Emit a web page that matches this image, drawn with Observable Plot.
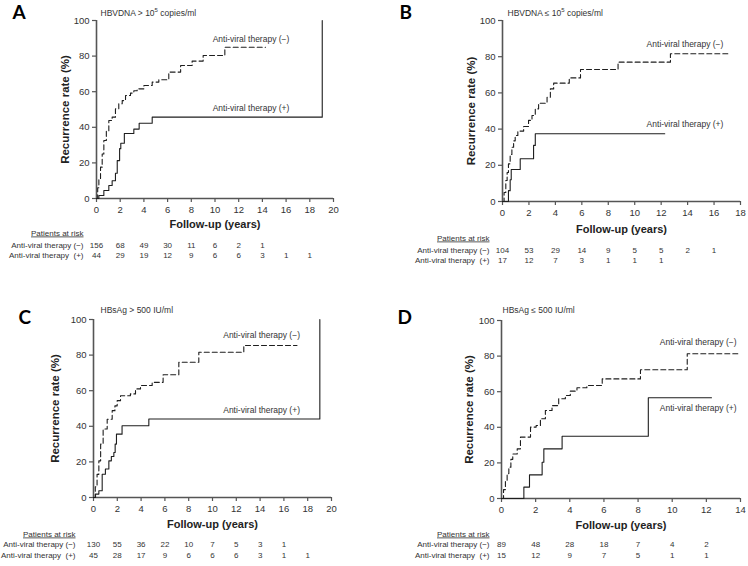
<!DOCTYPE html>
<html><head><meta charset="utf-8">
<script src="https://cdn.jsdelivr.net/npm/d3@7"></script>
<script src="https://cdn.jsdelivr.net/npm/@observablehq/plot@0.6"></script>
<style>
body{margin:0;background:#fff;}
#wrap{position:relative;width:748px;height:566px;font-family:"Liberation Sans",Arial,sans-serif;}
#wrap svg{position:absolute;overflow:visible;}
</style></head><body><div id="wrap"></div>
<script>
// ---------- data ----------
const labelNeg = "Anti-viral therapy (−)";
const labelPos = "Anti-viral therapy (+)";
const riskNegLabel = "Anti-viral therapy (−)";
const riskPosLabel = "Anti-viral therapy  (+)";
const yTicks = [0, 20, 40, 60, 80, 100];

// Panel A: HBVDNA > 10^5
const aTitle = "HBVDNA > 10⁵ copies/ml";
const aNeg = [[0,0],[0.1,6],[0.2,11],[0.34,17.6],[0.48,25],[0.62,32.6],[0.83,38],[1.04,43.8],[1.32,45.7],[1.6,50.4],[1.88,53.2],[2.17,55],[2.45,57.9],[2.87,59.2],[3.15,60.5],[3.43,61.6],[4.0,63.5],[4.7,65.4],[5.26,66.7],[6.1,71],[7.1,74.7],[8.07,77.2],[9.0,80.3],[10.83,85],[14.26,85]];
const aPos = [[0,0],[0.2,1.7],[0.62,4.5],[1.04,7.3],[1.32,10],[1.6,14.2],[1.75,21.3],[1.95,28],[2.05,31],[2.35,36.5],[3.15,39],[3.6,42.3],[4.7,45.7],[19.05,45.7],[19.05,100]];
const aRiskNeg = [156, 68, 49, 30, 11, 6, 2, 1];
const aRiskPos = [44, 29, 19, 12, 9, 6, 6, 3, 1, 1];
const aXTicks = [0,2,4,6,8,10,12,14,16,18,20];

// Panel B: HBVDNA <= 10^5
const bTitle = "HBVDNA ≤ 10⁵ copies/ml";
const bNeg = [[0,0],[0.12,5],[0.25,11.6],[0.35,16],[0.45,20.8],[0.58,26],[0.71,30],[0.84,33.5],[0.96,36.5],[1.16,38.9],[1.6,41.4],[1.97,44.8],[2.23,47.5],[2.48,51.2],[2.73,54.3],[3.37,57.6],[3.62,62.2],[3.87,65.4],[5.05,68.3],[5.9,72.9],[8.74,77],[12.7,81.6],[17.2,81.6]];
const bPos = [[0,0],[0.45,6],[0.58,12],[0.66,17.7],[1.34,23.6],[2.35,31],[2.48,37.4],[12.27,37.4]];
const bRiskNeg = [104, 53, 29, 14, 9, 5, 5, 2, 1];
const bRiskPos = [17, 12, 7, 3, 1, 1, 1];
const bXTicks = [0,2,4,6,8,10,12,14,16,18];

// Panel C: HBsAg > 500
const cTitle = "HBsAg > 500 IU/ml";
const cNeg = [[0,0],[0.15,6],[0.3,13],[0.45,20.6],[0.6,30],[0.81,38.5],[1.15,44],[1.57,48.8],[1.8,51.5],[1.99,54.4],[2.27,57.2],[3.1,58.2],[3.53,61],[3.95,62.9],[4.93,64.7],[5.85,69],[7.17,76],[8.85,81.6],[12.63,85.4],[17.1,85.4]];
const cPos = [[0,0],[0.17,1.9],[0.45,3.8],[0.73,13.1],[1.0,16],[1.29,20.6],[1.5,23],[1.71,25.3],[1.82,30],[1.93,35.6],[2.4,40.3],[4.65,44.1],[19.02,44.1],[19.02,100]];
const cRiskNeg = [130, 55, 36, 22, 10, 7, 5, 3, 1];
const cRiskPos = [45, 28, 17, 9, 6, 6, 6, 3, 1, 1];
const cXTicks = [0,2,4,6,8,10,12,14,16,18,20];

// Panel D: HBsAg <= 500
const dTitle = "HBsAg ≤ 500 IU/ml";
const dNeg = [[0,0],[0.12,5],[0.23,10],[0.33,14],[0.43,17.6],[0.55,22],[0.66,25],[0.92,27.9],[1.11,34.5],[1.7,40.1],[2.03,41],[2.28,44.8],[2.57,49.4],[2.96,52.2],[3.35,56],[3.74,57.9],[4.03,60.3],[4.42,62.2],[5.0,63.5],[5.9,67.2],[8.14,72.3],[10.88,81.3],[13.87,81.3]];
const dPos = [[0,0],[1.31,6.4],[1.64,13.3],[2.38,20.4],[2.48,27.9],[3.55,35],[8.6,56.6],[12.3,56.6]];
const dRiskNeg = [89, 48, 28, 18, 7, 4, 2];
const dRiskPos = [15, 12, 9, 7, 5, 1, 1];
const dXTicks = [0,2,4,6,8,10,12,14];

// ---------- layout (positions / styles) ----------
const panels = [
  {letter:"A", title:aTitle, neg:aNeg, pos:aPos, riskNeg:aRiskNeg, riskPos:aRiskPos, xTicks:aXTicks,
   left:0, top:0, mL:96, mR:41, mT:20, mB:85,
   letterDx:-84, letterDy:-2, titleDx:4, titleDy:-11,
   annNeg:[9.8,89.3], annPos:[9.8,50.6], yLabDx:-31,
   fuDy:29, parDy:37, r1Dy:49, r2Dy:59, rowDx:-13},
  {letter:"B", title:bTitle, neg:bNeg, pos:bPos, riskNeg:bRiskNeg, riskPos:bRiskPos, xTicks:bXTicks,
   left:374, top:0, mL:128, mR:8, mT:20, mB:82,
   letterDx:-103, letterDy:-2, titleDx:5, titleDy:-11,
   annNeg:[10.9,87.1], annPos:[10.9,42.5], yLabDx:-31,
   fuDy:31, parDy:39, r1Dy:51, r2Dy:61, rowDx:-13},
  {letter:"C", title:cTitle, neg:cNeg, pos:cPos, riskNeg:cRiskNeg, riskPos:cRiskPos, xTicks:cXTicks,
   left:0, top:283, mL:93, mR:43, mT:36, mB:69,
   letterDx:-75, letterDy:4, titleDx:7, titleDy:-13,
   annNeg:[10.9,91.4], annPos:[10.9,49.2], yLabDx:-38,
   fuDy:30, parDy:39, r1Dy:49, r2Dy:60, rowDx:-18},
  {letter:"D", title:dTitle, neg:dNeg, pos:dPos, riskNeg:dRiskNeg, riskPos:dRiskPos, xTicks:dXTicks,
   left:374, top:283, mL:127, mR:8, mT:37, mB:68,
   letterDx:-104, letterDy:3, titleDx:1, titleDy:-14,
   annNeg:[9.27,87.6], annPos:[9.27,50.6], yLabDx:-32,
   fuDy:30, parDy:38, r1Dy:48, r2Dy:59, rowDx:-12}
];

const ink = "#1e1e1e";
const axisCol = "#555";

function makePanel(p) {
  const xmax = p.xTicks[p.xTicks.length - 1];
  const riskNegRows = p.riskNeg.map((n, i) => ({t: p.xTicks[i], n}));
  const riskPosRows = p.riskPos.map((n, i) => ({t: p.xTicks[i], n}));
  const svg = Plot.plot({
    width: 374, height: 283,
    marginLeft: p.mL, marginRight: p.mR, marginTop: p.mT, marginBottom: p.mB,
    x: {domain: [0, xmax]},
    y: {domain: [0, 100]},
    style: {fontFamily: '"Liberation Sans", Arial, sans-serif', fontSize: "9.5px", color: "#333", background: "transparent", overflow: "visible"},
    marks: [
      Plot.axisX({ticks: p.xTicks, tickSize: 4, tickPadding: 4, label: null, stroke: axisCol, fill: "#333", strokeWidth: 1.2}),
      Plot.axisY({ticks: yTicks, tickSize: 4, tickPadding: 3, label: null, stroke: axisCol, fill: "#333", strokeWidth: 1.2}),
      Plot.ruleY([0], {stroke: axisCol, strokeWidth: 1.6}),
      Plot.ruleX([0], {stroke: axisCol, strokeWidth: 1.6}),
      Plot.line(p.neg, {x: d => d[0], y: d => d[1], curve: "step-after", stroke: ink, strokeWidth: 1.1, strokeDasharray: "5,3"}),
      Plot.line(p.pos, {x: d => d[0], y: d => d[1], curve: "step-after", stroke: ink, strokeWidth: 1.1}),
      Plot.text([labelNeg], {x: () => p.annNeg[0], y: () => p.annNeg[1], text: d => d, textAnchor: "start", fontSize: 8.5, fill: "#333"}),
      Plot.text([labelPos], {x: () => p.annPos[0], y: () => p.annPos[1], text: d => d, textAnchor: "start", fontSize: 8.5, fill: "#333"}),
      Plot.text([p.title], {frameAnchor: "top-left", text: d => d, dx: p.titleDx, dy: p.titleDy, textAnchor: "start", fontSize: 8.5, fill: "#333"}),
      Plot.text([p.letter], {frameAnchor: "top-left", text: d => d, dx: p.letterDx, dy: p.letterDy, textAnchor: "start", lineAnchor: "bottom", fontSize: 19, fontWeight: "bold", fontFamily: "Lato, 'Liberation Sans', sans-serif", fill: "#000"}),
      Plot.text(["Recurrence rate (%)"], {frameAnchor: "left", text: d => d, dx: p.yLabDx, rotate: -90, textAnchor: "middle", lineAnchor: "middle", fontSize: 11.5, fontWeight: "bold", fill: "#222"}),
      Plot.text(["Follow-up (years)"], {frameAnchor: "bottom", text: d => d, dy: p.fuDy, fontSize: 11, fontWeight: "bold", fill: "#222"}),
      Plot.text(["Patients at risk"], {frameAnchor: "bottom-left", text: d => d, dx: p.rowDx, dy: p.parDy, textAnchor: "end", fontSize: 8, fill: "#333"}),
      Plot.text([riskNegLabel], {frameAnchor: "bottom-left", text: d => d, dx: p.rowDx, dy: p.r1Dy, textAnchor: "end", fontSize: 8, fill: "#333"}),
      Plot.text([riskPosLabel], {frameAnchor: "bottom-left", text: d => d, dx: p.rowDx, dy: p.r2Dy, textAnchor: "end", fontSize: 8, fill: "#333"}),
      Plot.text(riskNegRows, {x: "t", text: "n", frameAnchor: "bottom", dy: p.r1Dy, fontSize: 8, fill: "#333"}),
      Plot.text(riskPosRows, {x: "t", text: "n", frameAnchor: "bottom", dy: p.r2Dy, fontSize: 8, fill: "#333"})
    ]
  });
  svg.style.left = p.left + "px";
  svg.style.top = p.top + "px";
  d3.select(svg).selectAll("text").each(function() {
    const t = this.textContent;
    if (t === "Patients at risk") d3.select(this).style("text-decoration", "underline");
    if (t.includes("⁵") && this.children.length === 0) {
      const [a, b] = t.split("⁵");
      const s = d3.select(this);
      s.text(null);
      s.append("tspan").text(a);
      s.append("tspan").attr("font-size", "6px").attr("dy", "-3.5").text("5");
      s.append("tspan").attr("dy", "3.5").text(b);
    }
  });
  return svg;
}

const wrap = document.getElementById("wrap");
panels.forEach(p => wrap.appendChild(makePanel(p)));
</script>
</body></html>
